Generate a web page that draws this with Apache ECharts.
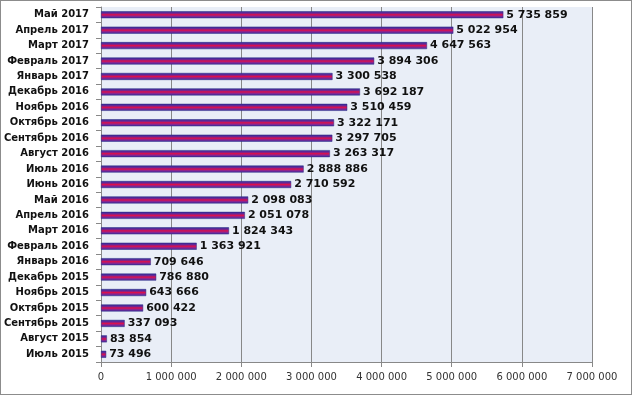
<!DOCTYPE html>
<html><head><meta charset="utf-8">
<script src="https://cdn.jsdelivr.net/npm/echarts@6/dist/echarts.min.js"></script>
<style>
html,body{margin:0;padding:0;background:#fff;}
#c{width:632px;height:395px;box-sizing:border-box;border:1px solid #8c8c8c;}
</style></head>
<body><div id="c"></div>
<script>
const categories = ["Май 2017","Апрель 2017","Март 2017","Февраль 2017","Январь 2017","Декабрь 2016","Ноябрь 2016","Октябрь 2016","Сентябрь 2016","Август 2016","Июль 2016","Июнь 2016","Май 2016","Апрель 2016","Март 2016","Февраль 2016","Январь 2016","Декабрь 2015","Ноябрь 2015","Октябрь 2015","Сентябрь 2015","Август 2015","Июль 2015"];
const values = [5735859,5022954,4647563,3894306,3300538,3692187,3510459,3322171,3297705,3263317,2888886,2710592,2098083,2051078,1824343,1363921,709646,786880,643666,600422,337093,83854,73496];
const xMin = 0, xMax = 7000000, xStep = 1000000;

function fmt(v){return String(Math.round(v)).replace(/\B(?=(\d{3})+(?!\d))/g,' ');}

const chart = echarts.init(document.getElementById('c'), null, {renderer:'canvas'});
chart.setOption({
  animation:false,
  backgroundColor:'#fff',
  grid:{left:100,right:39,top:6,bottom:32,show:true,backgroundColor:'#e9eef7',borderWidth:0},
  xAxis:{type:'value',min:xMin,max:xMax,interval:xStep,
    axisLine:{show:true,lineStyle:{color:'#888'}},
    axisTick:{show:true,length:5,lineStyle:{color:'#888'}},
    splitLine:{show:true,lineStyle:{color:'#888',width:1}},
    axisLabel:{formatter:fmt,color:'#333',fontFamily:'DejaVu Sans',fontSize:10,margin:10}
  },
  yAxis:{type:'category',data:categories,inverse:true,
    axisLine:{show:true,lineStyle:{color:'#888'}},
    axisTick:{show:true,length:5,lineStyle:{color:'#888'}},
    axisLabel:{color:'#111',fontFamily:'DejaVu Sans',fontWeight:'bold',fontSize:10,margin:12}
  },
  series:[{type:'bar',data:values,barWidth:7,
    itemStyle:{
      color:new echarts.graphic.LinearGradient(0,0,0,1,[
        {offset:0,color:'#2e2e9c'},{offset:0.28,color:'#6a2696'},{offset:0.5,color:'#de0f4a'},{offset:0.72,color:'#8a2490'},{offset:1,color:'#3a30a4'}]),
      borderColor:'#2a2a80',borderWidth:0.5
    },
    label:{show:true,position:'right',distance:3,formatter:p=>fmt(p.value),
      color:'#111',fontFamily:'DejaVu Sans',fontWeight:'bold',fontSize:11}
  }]
});
</script></body></html>
